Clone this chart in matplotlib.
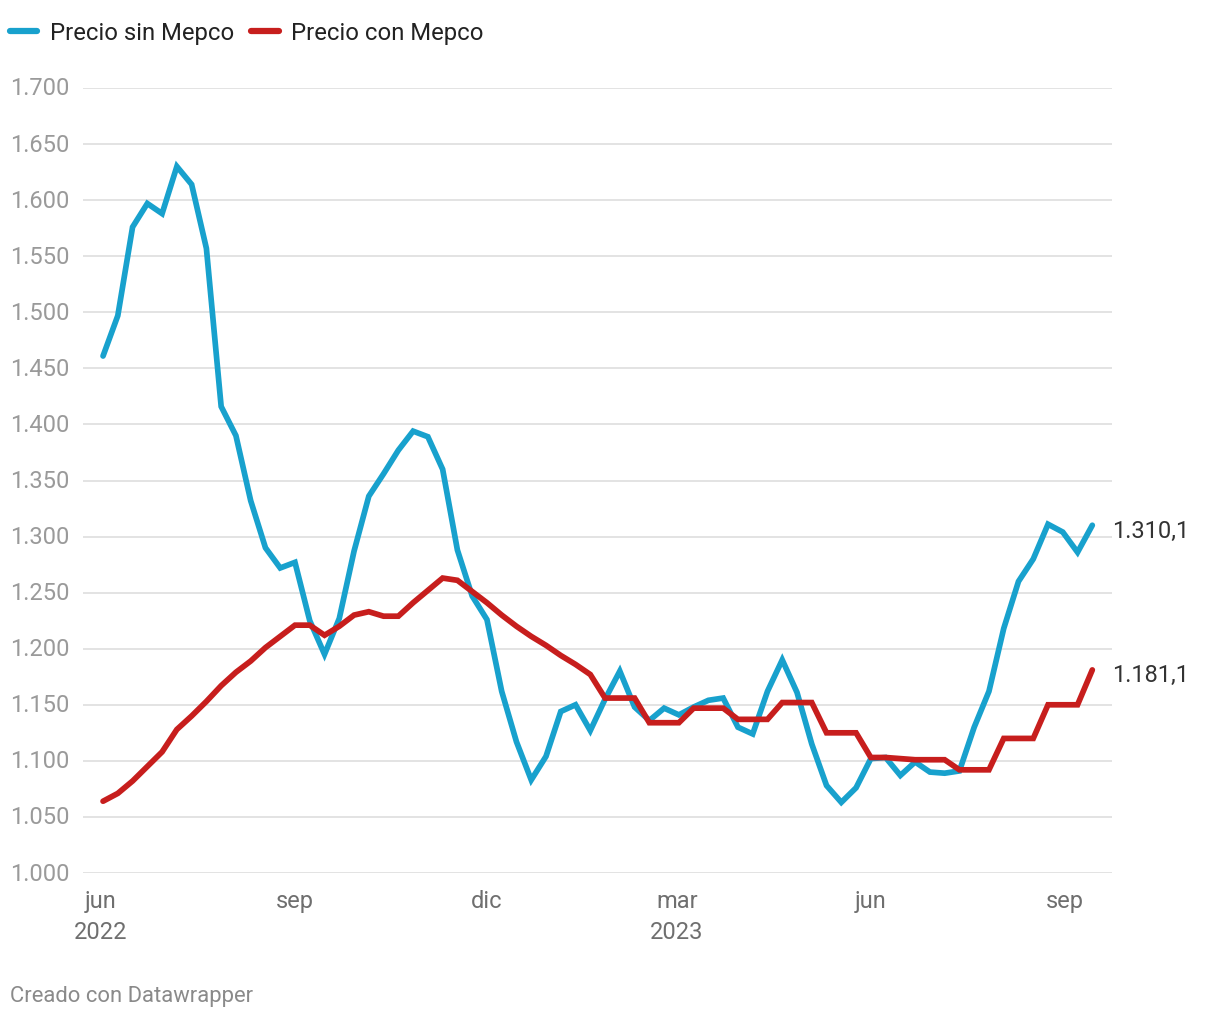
import matplotlib
matplotlib.use("Agg")
import matplotlib.pyplot as plt
import matplotlib.transforms as mtransforms
from matplotlib.lines import Line2D
import pandas as pd

# ---- data ----
dates = pd.date_range("2022-06-02", periods=68, freq="7D")
sin_mepco = [1461, 1497, 1576, 1597, 1588, 1630, 1614, 1557, 1416, 1390,
             1332, 1290, 1272, 1277, 1225, 1195, 1227, 1287, 1336, 1356,
             1377, 1394, 1389, 1360, 1288, 1247, 1226, 1162, 1117, 1083,
             1104, 1144, 1150, 1127, 1155, 1180, 1148, 1136, 1147, 1141,
             1148, 1154, 1156, 1130, 1124, 1162, 1190, 1161, 1115, 1078,
             1063, 1076, 1102, 1103, 1087, 1099, 1090, 1089, 1091, 1130,
             1162, 1218, 1260, 1280, 1311, 1304, 1286, 1310.1]
con_mepco = [1064, 1071, 1082, 1095, 1108, 1128, 1140, 1153, 1167, 1179,
             1189, 1201, 1211, 1221, 1221, 1212, 1220, 1230, 1233, 1229,
             1229, 1241, 1252, 1263, 1261, 1251, 1241, 1230, 1220, 1211,
             1203, 1194, 1186, 1177, 1156, 1156, 1156, 1134, 1134, 1134,
             1147, 1147, 1147, 1137, 1137, 1137, 1152, 1152, 1152, 1125,
             1125, 1125, 1103, 1103, 1102, 1101, 1101, 1101, 1092, 1092,
             1092, 1120, 1120, 1120, 1150, 1150, 1150, 1181.1]
series_names = ["Precio sin Mepco", "Precio con Mepco"]
y_ticks = [1000, 1050, 1100, 1150, 1200, 1250, 1300, 1350, 1400, 1450,
           1500, 1550, 1600, 1650, 1700]
x_tick_dates = ["2022-06-01", "2022-09-01", "2022-12-01", "2023-03-01",
                "2023-06-01", "2023-09-01"]
x_tick_labels = ["jun\n2022", "sep", "dic", "mar\n2023", "jun", "sep"]
credit = "Creado con Datawrapper"

BLUE = "#18a1cd"
RED = "#c71e1d"

plt.rcParams["font.family"] = ["Roboto", "DejaVu Sans"]

W, H = 1220, 1020
fig = plt.figure(figsize=(W / 100, H / 100), dpi=100)
ax = fig.add_axes([83 / W, (H - 874) / H, (1112 - 83) / W, (874 - 89) / H])

def fmt(v, dec=0):
    s = f"{v:,.{dec}f}"
    return s.replace(",", "X").replace(".", ",").replace("X", ".")

for v in y_ticks:
    ax.axhline(v, color="#e3e3e3", lw=1.4, zorder=0)

ax.plot(dates, sin_mepco, color=BLUE, lw=4.1, solid_joinstyle="miter",
        solid_capstyle="round", clip_on=False, zorder=3)
ax.plot(dates, con_mepco, color=RED, lw=4.1, solid_joinstyle="miter",
        solid_capstyle="round", clip_on=False, zorder=4)

ax.set_ylim(1000, 1700)
ax.set_xlim(pd.Timestamp("2022-05-23 12:00"), pd.Timestamp("2023-09-23 08:00"))
for s in ax.spines.values():
    s.set_visible(False)
ax.set_xticks([])
ax.set_yticks([])

# y labels
tr = mtransforms.blended_transform_factory(fig.transFigure, ax.transData)
for v in y_ticks:
    ax.text(10 / W, v, fmt(v), transform=tr, ha="left", va="center",
            fontsize=17, color="#9a9a9a")

# x labels
trx = mtransforms.blended_transform_factory(ax.transData, fig.transFigure)
for d, lab in zip(x_tick_dates, x_tick_labels):
    ax.text(pd.Timestamp(d), 1 - 890 / H, lab, transform=trx, ha="center",
            va="top", fontsize=17, color="#6f6f6f", linespacing=1.42)

# end labels
for vals in (sin_mepco, con_mepco):
    ax.annotate(fmt(vals[-1], 1), (dates[-1], vals[-1]), xytext=(20, -5),
                textcoords="offset pixels", ha="left", va="center",
                fontsize=17, color="#333333", annotation_clip=False)

# legend
handles = [Line2D([], [], color=BLUE, lw=4.5, solid_capstyle="round"),
           Line2D([], [], color=RED, lw=4.5, solid_capstyle="round")]
fig.legend(handles, series_names, loc="upper left",
           bbox_to_anchor=(10 / W, 1 - 22 / H), ncol=2, frameon=False,
           fontsize=17.2, handlelength=1.15, handletextpad=0.52,
           columnspacing=0.72, borderaxespad=0, borderpad=0,
           handleheight=0.7, labelcolor="#222222")

fig.text(10 / W, 1 - 997 / H, credit, ha="left", va="center", fontsize=15.8,
         color="#8a8a8a")

fig.savefig("out.png", dpi=100)
